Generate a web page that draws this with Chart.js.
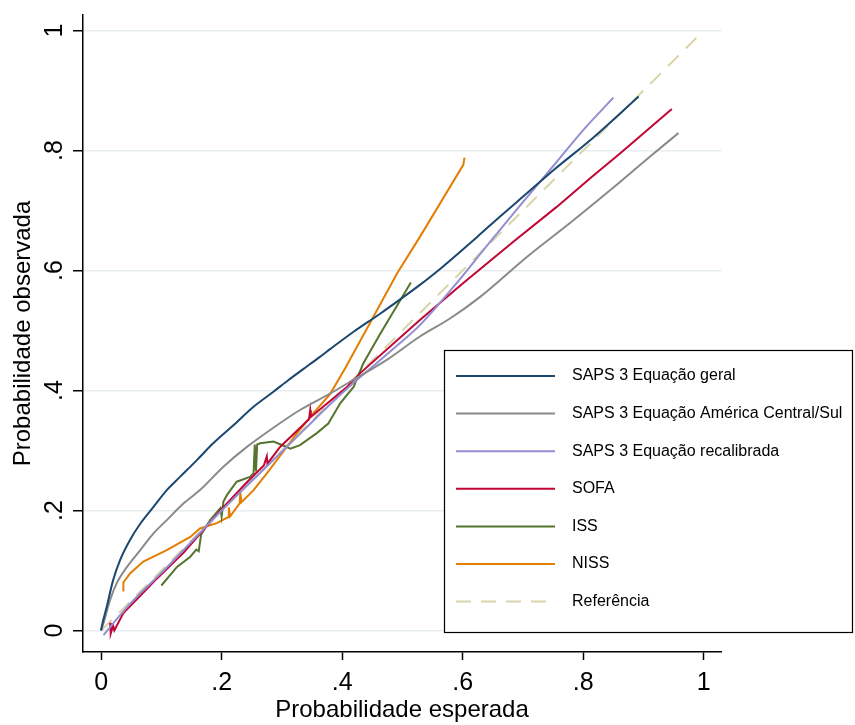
<!DOCTYPE html>
<html>
<head>
<meta charset="utf-8">
<script src="https://cdn.jsdelivr.net/npm/chart.js@4.4.1/dist/chart.umd.min.js"></script>
<style>
  html, body { margin: 0; padding: 0; background: #fff; }
  canvas { display: block; }
</style>
</head>
<body>
<canvas id="calib" width="855" height="725" style="width:855px;height:725px"></canvas>
<script>
// Tick positions and labels shared by both axes
const tickValues = [0, 0.2, 0.4, 0.6, 0.8, 1];
const tickLabels = ['0', '.2', '.4', '.6', '.8', '1'];

// Series names, in legend order
const seriesNames = [
    'SAPS 3 Equação geral',
    'SAPS 3 Equação América Central/Sul',
    'SAPS 3 Equação recalibrada',
    'SOFA',
    'ISS',
    'NISS',
    'Referência'
];
const seriesColors = ['#1a476f', '#8a8a8a', '#938dd2', '#c10534', '#55752f', '#e37e00', '#d9d4a9'];

// SAPS 3 general equation
const geralX = [0, 0.001, 0.0095, 0.02, 0.0315, 0.048, 0.065, 0.087, 0.109, 0.131, 0.159, 0.186, 0.22, 0.253, 0.286, 0.311, 0.336, 0.363, 0.38, 0.419, 0.463, 0.502, 0.529, 0.563, 0.624, 0.662, 0.707, 0.751, 0.812, 0.892];
const geralY = [0, 0.006, 0.04, 0.084, 0.1175, 0.151, 0.178, 0.206, 0.234, 0.256, 0.284, 0.312, 0.3425, 0.373, 0.398, 0.4175, 0.436, 0.456, 0.469, 0.498, 0.528, 0.556, 0.576, 0.603, 0.656, 0.69, 0.729, 0.7675, 0.8175, 0.89];

// SAPS 3 Central/South America equation
const amerX = [0, 0.004, 0.015, 0.026, 0.043, 0.065, 0.087, 0.109, 0.137, 0.164, 0.203, 0.242, 0.286, 0.33, 0.38, 0.419, 0.474, 0.529, 0.579, 0.629, 0.707, 0.778, 0.845, 0.911, 0.958];
const amerY = [0, 0.012, 0.051, 0.079, 0.106, 0.134, 0.162, 0.184, 0.212, 0.234, 0.273, 0.306, 0.338, 0.3675, 0.395, 0.418, 0.451, 0.49, 0.52, 0.556, 0.623, 0.679, 0.734, 0.79, 0.829];

// SAPS 3 recalibrated
const recalX = [0.004, 0.037, 0.065, 0.1, 0.15, 0.2, 0.3, 0.4, 0.496, 0.529, 0.585, 0.64, 0.695, 0.751, 0.8, 0.85];
const recalY = [-0.0075, 0.032, 0.062, 0.096, 0.148, 0.2, 0.298, 0.396, 0.479, 0.509, 0.573, 0.641, 0.708, 0.775, 0.834, 0.888];

// SOFA
const sofaX = [0.015, 0.016, 0.02, 0.022, 0.025, 0.037, 0.065, 0.092, 0.137, 0.198, 0.24, 0.27, 0.275, 0.276, 0.297, 0.345, 0.347, 0.348, 0.408, 0.43, 0.529, 0.601, 0.684, 0.756, 0.814, 0.861, 0.947];
const sofaY = [0.013, -0.005, 0.008, 0.0, 0.006, 0.029, 0.058, 0.086, 0.13, 0.2, 0.245, 0.275, 0.29, 0.278, 0.306, 0.352, 0.367, 0.356, 0.406, 0.429, 0.5175, 0.579, 0.648, 0.706, 0.756, 0.795, 0.869];

// ISS
const issX = [0.1, 0.126, 0.148, 0.158, 0.162, 0.166, 0.181, 0.198, 0.2, 0.203, 0.209, 0.225, 0.247, 0.253, 0.255, 0.257, 0.259, 0.264, 0.286, 0.303, 0.314, 0.33, 0.358, 0.377, 0.397, 0.419, 0.435, 0.463, 0.514];
const issY = [0.075, 0.106, 0.123, 0.135, 0.132, 0.16, 0.184, 0.204, 0.19, 0.215, 0.226, 0.248, 0.256, 0.262, 0.31, 0.265, 0.31, 0.312, 0.315, 0.308, 0.303, 0.309, 0.329, 0.345, 0.379, 0.406, 0.445, 0.494, 0.58];

// NISS
const nissX = [0.037, 0.037, 0.048, 0.07, 0.109, 0.148, 0.164, 0.192, 0.211, 0.212, 0.214, 0.23, 0.231, 0.233, 0.253, 0.275, 0.3, 0.325, 0.352, 0.38, 0.405, 0.446, 0.491, 0.529, 0.601, 0.603];
const nissY = [0.065, 0.08, 0.095, 0.115, 0.134, 0.156, 0.17, 0.179, 0.189, 0.205, 0.19, 0.212, 0.23, 0.214, 0.234, 0.262, 0.295, 0.329, 0.362, 0.394, 0.437, 0.512, 0.595, 0.656, 0.776, 0.788];

// Reference diagonal
const refX = [0, 0.995];
const refY = [0, 0.995];

const seriesX = [geralX, amerX, recalX, sofaX, issX, nissX, refX];
const seriesY = [geralY, amerY, recalY, sofaY, issY, nissY, refY];
// smooth fits get a monotone spline, the jagged ones stay straight
const smoothSeries = [true, true, true, false, false, false, false];

const FONT = '"Liberation Sans", Arial, Helvetica, sans-serif';

const datasets = seriesNames.map((name, i) => ({
    label: name,
    data: seriesX[i].map((x, j) => ({ x: x, y: seriesY[i][j] })),
    showLine: true,
    borderColor: seriesColors[i],
    backgroundColor: seriesColors[i],
    borderWidth: 2,
    borderDash: i === 6 ? [15, 10] : [],
    pointRadius: 0,
    cubicInterpolationMode: smoothSeries[i] ? 'monotone' : 'default',
    tension: 0,
    order: i === 6 ? 10 : 0
}));

// Vertical tick labels on the y axis (text reads bottom to top)
const yTickText = {
    id: 'yTickText',
    afterDraw(chart) {
        const ctx = chart.ctx;
        const yScale = chart.scales.y;
        ctx.save();
        ctx.fillStyle = '#000';
        ctx.font = '25px ' + FONT;
        ctx.textAlign = 'center';
        ctx.textBaseline = 'alphabetic';
        tickValues.forEach((v, i) => {
            const py = yScale.getPixelForValue(v);
            ctx.save();
            ctx.translate(62, py);
            ctx.rotate(-Math.PI / 2);
            ctx.fillText(tickLabels[i], 0, 0);
            ctx.restore();
        });
        ctx.restore();
    }
};

// Boxed legend that sits over the lower right of the plot
const legendBox = {
    id: 'legendBox',
    afterDraw(chart) {
        const ctx = chart.ctx;
        const left = 444, top = 350, right = 853, bottom = 633;
        ctx.save();
        ctx.fillStyle = '#fff';
        ctx.fillRect(left, top, right - left, bottom - top);
        ctx.strokeStyle = '#000';
        ctx.lineWidth = 1.2;
        ctx.strokeRect(left + 0.5, top + 0.5, right - left - 1, bottom - top - 1);
        ctx.font = '16px ' + FONT;
        ctx.textAlign = 'left';
        ctx.textBaseline = 'middle';
        chart.data.datasets.forEach((ds, i) => {
            const rowY = 376 + i * 37.6;
            ctx.strokeStyle = ds.borderColor;
            ctx.lineWidth = 2;
            ctx.setLineDash(ds.borderDash);
            ctx.beginPath();
            ctx.moveTo(456, rowY);
            ctx.lineTo(555, rowY);
            ctx.stroke();
            ctx.setLineDash([]);
            ctx.fillStyle = '#000';
            ctx.fillText(ds.label, 572, rowY);
        });
        ctx.restore();
    }
};

const fixedTicks = scale => {
    scale.ticks = tickValues.map(v => ({ value: v }));
};

new Chart(document.getElementById('calib').getContext('2d'), {
    type: 'scatter',
    data: { datasets: datasets },
    options: {
        responsive: false,
        animation: false,
        layout: { padding: { top: 15, right: 134, left: 0, bottom: 0 } },
        plugins: {
            legend: { display: false },
            tooltip: { enabled: false }
        },
        scales: {
            x: {
                type: 'linear',
                min: -0.03,
                max: 1.0286,
                afterBuildTicks: fixedTicks,
                afterFit: s => { s.height = 73; },
                border: { color: '#000', width: 1.5 },
                grid: { drawOnChartArea: false, tickColor: '#000', tickLength: 8, tickWidth: 1.5 },
                ticks: {
                    color: '#000',
                    padding: 8,
                    font: { family: FONT, size: 25 },
                    callback: v => tickLabels[tickValues.indexOf(+v.toFixed(1))]
                },
                title: {
                    display: true,
                    text: 'Probabilidade esperada',
                    color: '#000',
                    font: { family: FONT, size: 24 },
                    padding: 0
                }
            },
            y: {
                type: 'linear',
                min: -0.0358,
                max: 1.0258,
                afterBuildTicks: fixedTicks,
                afterFit: s => { s.width = 83; },
                border: { color: '#000', width: 1.5 },
                grid: { color: '#e6eef1', lineWidth: 1.5, tickColor: '#000', tickLength: 10, tickWidth: 1.5 },
                ticks: { display: false },
                title: {
                    display: true,
                    text: 'Probabilidade observada',
                    color: '#000',
                    font: { family: FONT, size: 24 },
                    padding: { top: 9, bottom: 0 }
                }
            }
        }
    },
    plugins: [yTickText, legendBox]
});
</script>
</body>
</html>
